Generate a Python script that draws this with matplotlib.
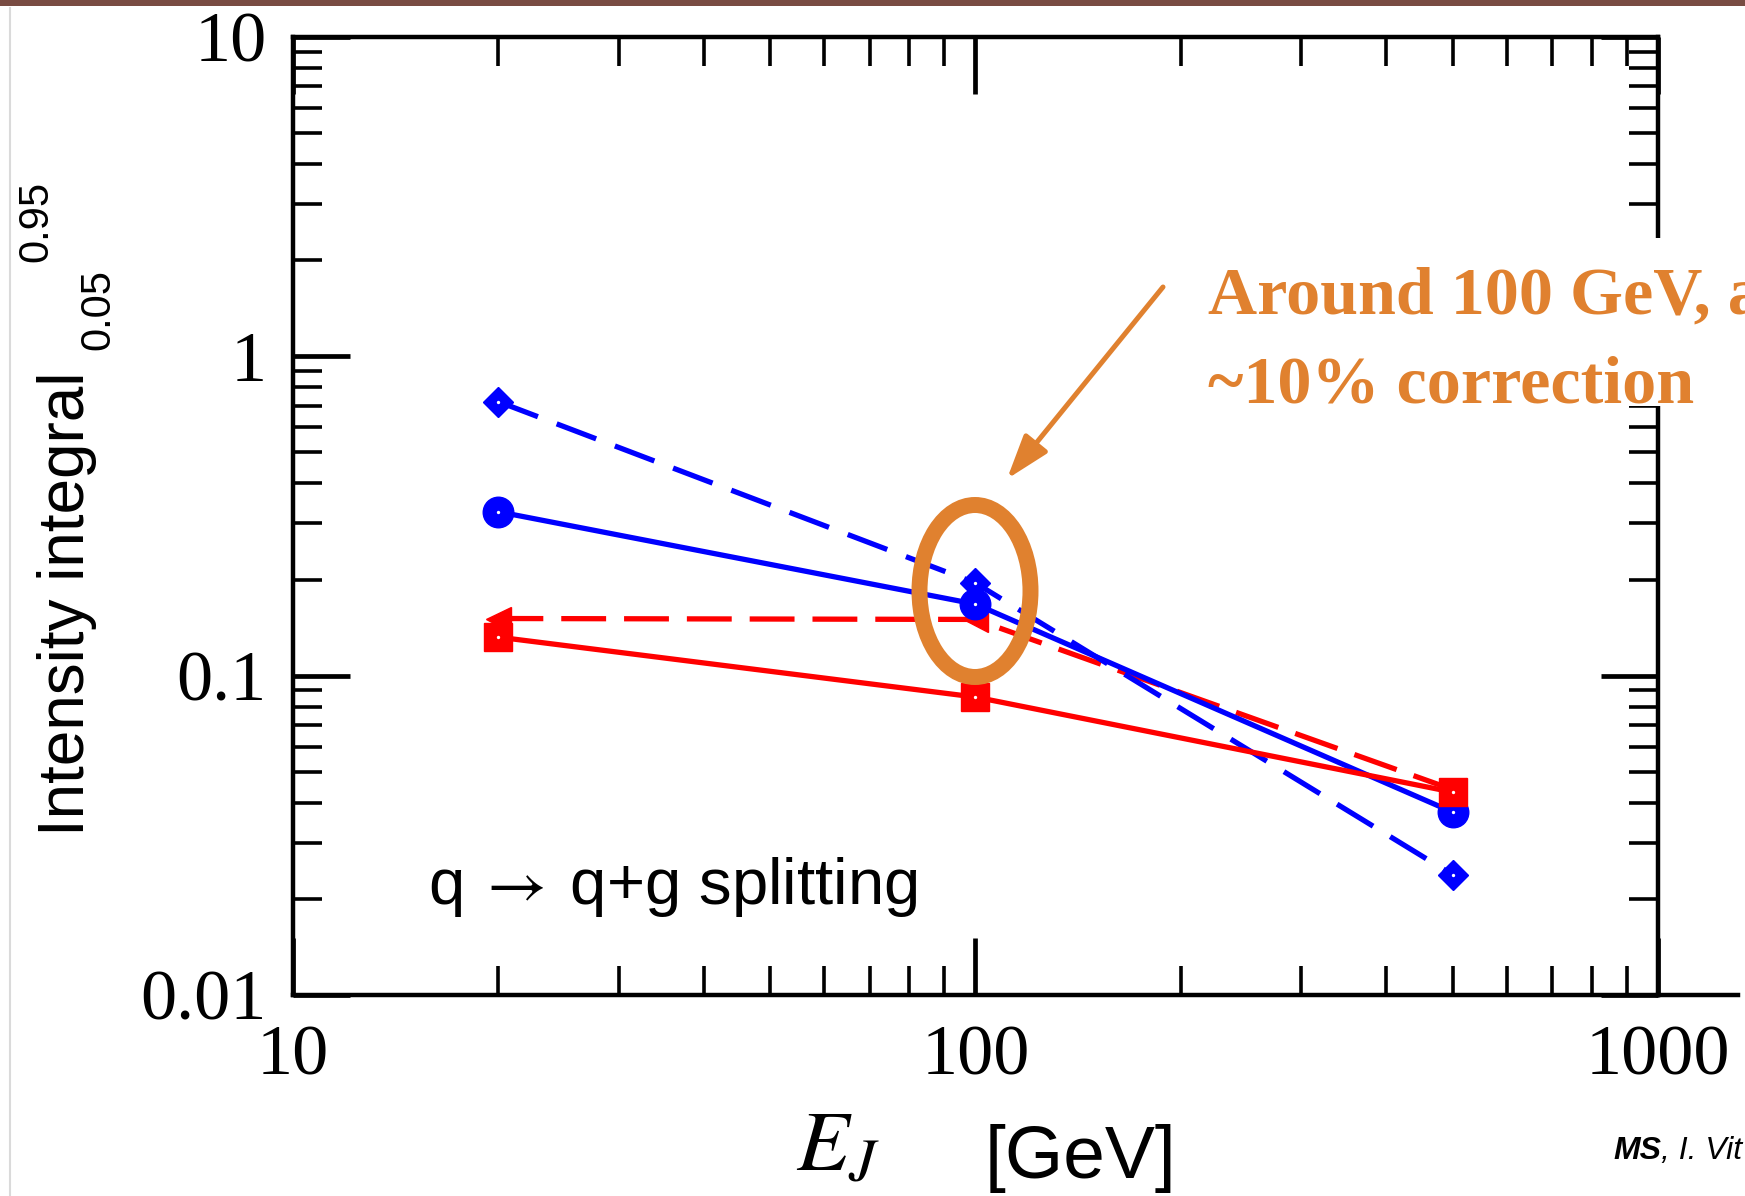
import numpy as np
import matplotlib
matplotlib.use('Agg')
import matplotlib.pyplot as plt
from matplotlib.patches import Ellipse, Rectangle, FancyArrowPatch
from matplotlib.lines import Line2D
from matplotlib.ticker import FixedLocator, NullFormatter

plt.rcParams['mathtext.fontset'] = 'stix'

# ── Datos ─────────────────────────────────────────────────────────────────────
energy = [20, 100, 500]                      # E_J [GeV]
blue_dashed = [0.721, 0.195, 0.0238]         # diamantes
blue_solid = [0.326, 0.1675, 0.0374]         # círculos
red_dashed = [0.151, 0.150, 0.044]           # triángulos
red_solid = [0.132, 0.0857, 0.0432]          # cuadrados

x_ticks = [10, 100, 1000]
x_tick_labels = ['10', '100', '1000']
y_ticks = [0.01, 0.1, 1, 10]
y_tick_labels = ['0.01', '0.1', '1', '10']

BLUE = '#0000FF'
RED = '#FF0000'
ORANGE = '#E0812F'
W, H = 1745, 1196


def fx(px):
    return px / W


def fy(py):
    return 1 - py / H


fig = plt.figure(figsize=(W / 100, H / 100), dpi=100)
ax = fig.add_axes([fx(293), fy(995), fx(1658 - 293), (995 - 37) / H])
ax.set_xscale('log')
ax.set_yscale('log')
ax.set_xlim(10, 1000)
ax.set_ylim(0.01, 10)

# ── Curvas ───────────────────────────────────────────────────────────────────
lw = 3.8
ax.plot(energy, red_dashed, color=RED, lw=lw, dashes=(8.5, 3.4),
        marker='<', ms=18, zorder=2)
ax.plot(energy, blue_solid, color=BLUE, lw=lw, marker='o', ms=22, zorder=3)
ax.plot(energy, blue_dashed, color=BLUE, lw=lw, dashes=(8, 3.8),
        marker='D', ms=15.5, zorder=4)
ax.plot(energy, red_solid, color=RED, lw=lw, marker='s', ms=20, zorder=5)
for series in (blue_dashed, blue_solid, red_solid):
    ax.plot(energy, series, ls='none', marker='o', ms=2.4, mfc='white',
            mec='none', zorder=6)

# ── Ejes ─────────────────────────────────────────────────────────────────────
for sp in ax.spines.values():
    sp.set_linewidth(3.2)
ax.xaxis.set_major_locator(FixedLocator(x_ticks))
ax.xaxis.set_minor_locator(FixedLocator(
    [m * d for d in (10, 100) for m in range(2, 10)]))
ax.yaxis.set_major_locator(FixedLocator(y_ticks))
ax.yaxis.set_minor_locator(FixedLocator(
    [m * d for d in (0.01, 0.1, 1) for m in range(2, 10)]))
ax.set_xticklabels(x_tick_labels)
ax.set_yticklabels(y_tick_labels)
ax.xaxis.set_minor_formatter(NullFormatter())
ax.yaxis.set_minor_formatter(NullFormatter())
ax.tick_params(which='both', direction='in', top=True, right=True)
ax.tick_params(which='major', length=41, width=3.4)
ax.tick_params(which='minor', length=21, width=2.6)
ax.tick_params(axis='x', which='major', pad=21)
ax.tick_params(axis='y', which='major', pad=19)
for lab in ax.get_xticklabels() + ax.get_yticklabels():
    lab.set_family('Liberation Serif')
    lab.set_fontsize(52)

ax.text(fx(428), fy(904), r'q$\;\rightarrow\;$q+g splitting',
        transform=fig.transFigure, family='Liberation Sans', fontsize=47,
        va='baseline', ha='left')

# ── Etiquetas de ejes ────────────────────────────────────────────────────────
fig.text(fx(67), fy(604), 'Intensity integral', rotation=90,
         family='Liberation Sans', fontsize=46, ha='center', va='center')
fig.text(fx(98), fy(309), '0.05', rotation=90,
         family='Liberation Sans', fontsize=30, ha='center', va='center')
fig.text(fx(36), fy(221), '0.95', rotation=90,
         family='Liberation Sans', fontsize=30, ha='center', va='center')
fig.text(fx(796), fy(1170), r'$E_J$', fontsize=62, ha='left', va='baseline')
fig.text(fx(985), fy(1178), '[GeV]', family='Liberation Sans', fontsize=54,
         ha='left', va='baseline')

# ── Decoración de la diapositiva ─────────────────────────────────────────────
fig.add_artist(Rectangle((0, fy(6)), 1, 6 / H, transform=fig.transFigure,
                         facecolor='#794C43', edgecolor='none', zorder=5))
fig.add_artist(Line2D([fx(10), fx(10)], [0, fy(8)], transform=fig.transFigure,
                      color='#DADADA', lw=1.5))
fig.add_artist(Line2D([fx(1658), fx(1738)], [fy(995), fy(995)],
                      transform=fig.transFigure, color='black', lw=3.2))

# caja blanca con la anotación
fig.add_artist(Rectangle((fx(1200), fy(406)), 1 - fx(1200), (406 - 238) / H,
                         transform=fig.transFigure, facecolor='white',
                         edgecolor='none', zorder=2))
note_lines = ['Around 100 GeV, a', '~10% correction']
for txt, base in zip(note_lines, (313, 403)):
    fig.text(fx(1208), fy(base), txt, family='Liberation Serif',
             fontweight='bold', fontsize=49, color=ORANGE,
             ha='left', va='baseline', zorder=3)

fig.add_artist(FancyArrowPatch((fx(1163), fy(287)), (fx(1007), fy(479)),
                               transform=fig.transFigure,
                               arrowstyle='-|>,head_length=0.9,head_width=0.3',
                               mutation_scale=30, lw=3.6, color=ORANGE,
                               shrinkA=0, shrinkB=0, zorder=4))
fig.add_artist(Ellipse((fx(975), fy(591)), 111 / W, 172 / H,
                       transform=fig.transFigure, fill=False,
                       edgecolor=ORANGE, lw=11.5, zorder=4))

t1 = fig.text(fx(1613), fy(1166), 'MS', family='Liberation Sans',
              fontweight='bold', style='italic', fontsize=23,
              ha='left', va='bottom')
ax.annotate(', I. Vit', xy=(1, 0), xycoords=t1, family='Liberation Sans',
            style='italic', fontsize=23, ha='left', va='bottom',
            annotation_clip=False)

fig.savefig('out.png', dpi=100)
